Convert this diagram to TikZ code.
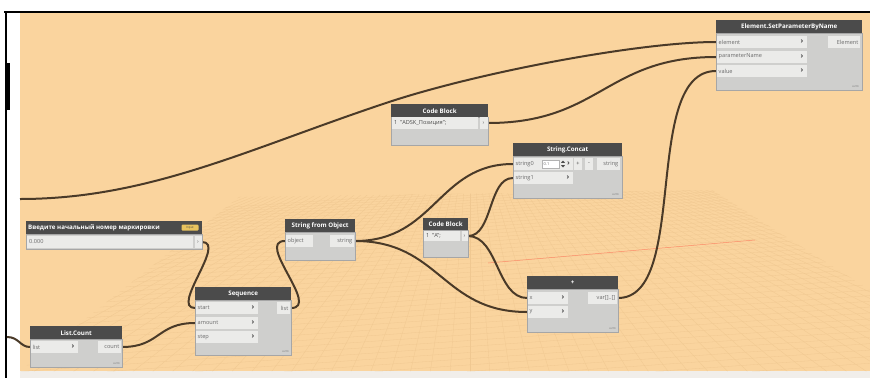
\documentclass[tikz,border=0pt]{standalone}
\usepackage{fontspec}
\setmainfont{Open Sans}
\definecolor{peach}{HTML}{FAD49E}
\definecolor{gridc}{HTML}{F0C891}
\definecolor{hdrc}{HTML}{4B4B4B}
\definecolor{bodyc}{HTML}{CFCFCD}
\definecolor{rowc}{HTML}{EBEBE9}
\definecolor{wirec}{HTML}{4A3A28}
\definecolor{txtc}{HTML}{6A6A6A}
\definecolor{badgec}{HTML}{E9C35E}
\definecolor{bottomc}{HTML}{F1EEEA}
\tikzset{
  hdr/.style={fill=hdrc, draw=none, inner sep=0, anchor=north west, text=white,
    font=\fontsize{6.2}{7}\selectfont\bfseries},
  bodyn/.style={fill=bodyc, draw=gray!70, line width=0.4, inner sep=0, anchor=north west},
  rowbox/.style={fill=rowc, draw=none, inner sep=0, minimum height=12},
  lbl/.style={inner sep=0, text=txtc, font=\fontsize{5.6}{6}\selectfont},
  chev/.style={inner sep=0, text=hdrc, font=\fontsize{7.5}{8}\selectfont\bfseries},
  autol/.style={inner sep=0, text=txtc, font=\fontsize{2.4}{3}\selectfont, anchor=south east},
  wire/.style={draw=wirec, line width=2},
}
\newcommand\InRow[5]{%
  \node[rowbox, minimum width=#3-#2, anchor=west] (#1) at (#2,#4) {};
  \node[lbl, anchor=west] at (#2+1.5,#4) {#5};
  \node[chev] at (#3-5,#4) {›};
}
\newcommand\OutRow[5]{%
  \node[rowbox, minimum width=#3-#2, anchor=west] (#1) at (#2,#4) {};
  \node[lbl, anchor=east] at (#3-1.5,#4) {#5};
}
\begin{document}
\begin{tikzpicture}[x=1pt,y=-1pt]
\useasboundingbox (0,0) rectangle (870,378);
\fill[white] (0,0) rectangle (870,378);
\fill[peach] (20,13) rectangle (870,371);
\fill[bottomc] (20,371) rectangle (870,378);
% floor grid
\begin{scope}
  \clip (20,371) -- (239,197) -- (712,190) -- (870,290) -- (870,371) -- cycle;
  \foreach \i in {-60,...,60} {
    \draw[gridc, line width=0.3] (470+\i*3,150) -- (470+\i*22,400);
  }
  \foreach \k in {0,...,45} {
    \pgfmathsetmacro\yy{193+\k*2.2+\k*\k*0.05}
    \draw[gridc, line width=0.3] (0,\yy+30) -- (870,\yy-30);
  }
  \draw[red!35!peach, line width=0.5] (488,263) -- (755,240);
\end{scope}
% frame
\draw[black, line width=1.4] (4,12) -- (870,12);
\draw[black, line width=1.2] (6,12) -- (6,378);
\fill[black] (7,63) rectangle (9.8,110);

% free wire ends
\coordinate (lw1) at (20,199);
\coordinate (mid1) at (389,102);
\coordinate (lw2) at (7,337);

% ---------- wires ----------
\draw[wire] (lw1) .. controls (150,199) and (250,148) .. (mid1)
  .. controls (480,72) and (640,42) .. (716,42);
\draw[wire] (488,123) .. controls (600,123) and (606,57) .. (716,57);
\draw[wire] (618,298) .. controls (690,298) and (641,71) .. (716,71);
\draw[wire] (202,242) .. controls (227,242) and (170,308) .. (195,308);
\draw[wire] (122,347) .. controls (160,347) and (157,323) .. (195,323);
\draw[wire] (lw2) .. controls (19,337) and (20,347) .. (30,347);
\draw[wire] (291,308) .. controls (321,308) and (255,241) .. (285,241);
\draw[wire] (355,241) .. controls (435,241) and (438,164) .. (513,164);
\draw[wire] (355,241) .. controls (440,241) and (442,312) .. (527,312);
\draw[wire] (468,236) .. controls (493,236) and (488,178) .. (513,178);
\draw[wire] (468,236) .. controls (498,236) and (497,298) .. (527,298);

% ---------- Element.SetParameterByName ----------
\node[bodyn, minimum width=146, minimum height=57] (esp) at (716,33) {};
\node[hdr, minimum width=146, minimum height=13] (esph) at (716,20) {Element.SetParameterByName};
\InRow{espel}{717}{807}{42}{element}
\InRow{esppn}{717}{807}{56.5}{parameterName}
\InRow{espva}{717}{807}{71}{value}
\OutRow{espout}{828}{860}{42}{Element}
\node[autol] at (859,88) {AUTO};

% ---------- Code Block (top) ----------
\node[bodyn, minimum width=97, minimum height=28] (cba) at (391,117) {};
\node[hdr, minimum width=97, minimum height=13] (cbah) at (391,104) {Code Block};
\node[rowbox, minimum width=86, anchor=west] (cbarow) at (392,123) {};
\node[lbl, anchor=west, text=hdrc] at (394,123) {1\ \ "ADSK\_Позиция";};
\node[rowbox, minimum width=8, anchor=west] (cbaout) at (479.5,123) {};
\node[lbl] at (483.5,123) {›};

% ---------- String.Concat ----------
\node[bodyn, minimum width=109, minimum height=42] (sc) at (513,156) {};
\node[hdr, minimum width=109, minimum height=13] (sch) at (513,143) {String.Concat};
\node[rowbox, minimum width=59, anchor=west] (scs0) at (514,164) {};
\node[lbl, anchor=west] at (515.5,164) {string0};
\node[fill=white, draw=gray!60, line width=0.3, minimum width=17, minimum height=8, inner sep=0, anchor=west] (scbox) at (542,164) {};
\node[lbl, anchor=west, font=\fontsize{4}{4}\selectfont] at (543.5,164) {0.1};
\fill[hdrc] (561,162.8) -- (563,160.5) -- (565,162.8) -- cycle;
\fill[hdrc] (561,165.2) -- (563,167.5) -- (565,165.2) -- cycle;
\node[chev] at (568.5,164) {›};
\node[rowbox, minimum width=8, anchor=west] (scplus) at (574,164) {};
\node[lbl, text=hdrc] at (578,164) {+};
\node[rowbox, minimum width=8, anchor=west] (scminus) at (585,164) {};
\node[lbl, text=hdrc] at (589,164) {-};
\OutRow{scout}{597}{620}{164}{string}
\InRow{scs1}{514}{573}{178}{string1}
\node[autol] at (619,196) {AUTO};

% ---------- Number input ----------
\node[bodyn, minimum width=176, minimum height=15] (num) at (26,234) {};
\node[hdr, minimum width=176, minimum height=13] (numh) at (26,221) {};
\node[inner sep=0, anchor=west, text=white, font=\fontsize{6.2}{7}\selectfont\bfseries] at (28,227.5) {Введите начальный номер маркировки};
\node[fill=badgec, rounded corners=1, minimum width=17, minimum height=6, inner sep=0, text=hdrc, font=\fontsize{3}{3}\selectfont] (badge) at (190,227.5) {Input};
\node[rowbox, minimum width=166, anchor=west] (numval) at (27,242) {};
\node[lbl, anchor=west] at (29,242) {0.000};
\node[rowbox, minimum width=7, anchor=west] (numout) at (194.5,242) {};
\node[lbl] at (198,242) {›};

% ---------- String from Object ----------
\node[bodyn, minimum width=70, minimum height=28] (sfo) at (285,232) {};
\node[hdr, minimum width=70, minimum height=13] (sfoh) at (285,219) {String from Object};
\OutRow{sfoobj}{286}{313}{241}{}
\node[lbl, anchor=west] at (287.5,241) {object};
\OutRow{sfoout}{330}{354}{241}{string}

% ---------- Code Block (middle) ----------
\node[bodyn, minimum width=45, minimum height=27] (cbb) at (423,230) {};
\node[hdr, minimum width=45, minimum height=12] (cbbh) at (423,218) {Code Block};
\node[rowbox, minimum width=36, minimum height=10, anchor=west] (cbbrow) at (424,236) {};
\node[lbl, anchor=west, text=hdrc] at (426,236) {1\ \ "A";};
\node[rowbox, minimum width=6, minimum height=10, anchor=west] (cbbout) at (461.5,236) {};
\node[lbl] at (464.5,236) {›};

% ---------- Sequence ----------
\node[bodyn, minimum width=96, minimum height=55] (seq) at (195,300) {};
\node[hdr, minimum width=96, minimum height=13] (seqh) at (195,287) {Sequence};
\InRow{seqst}{196}{258}{308}{start}
\InRow{seqam}{196}{258}{322.5}{amount}
\InRow{seqsp}{196}{258}{337}{step}
\OutRow{seqout}{277}{290}{308}{list}
\node[autol] at (289,353) {AUTO};

% ---------- List.Count ----------
\node[bodyn, minimum width=92, minimum height=28] (lc) at (30,339) {};
\node[hdr, minimum width=92, minimum height=13] (lch) at (30,326) {List.Count};
\InRow{lclist}{31}{78}{347}{list}
\OutRow{lcout}{98}{121}{347}{count}
\node[autol] at (120,365) {AUTO};

% ---------- + ----------
\node[bodyn, minimum width=91, minimum height=43] (plus) at (527,289) {};
\node[hdr, minimum width=91, minimum height=13] (plush) at (527,276) {+};
\InRow{plusx}{528}{568}{298}{x}
\InRow{plusy}{528}{568}{312}{y}
\OutRow{plusout}{588}{617}{298}{var[]..[]}
\node[autol] at (616,330) {AUTO};
\end{tikzpicture}
\end{document}
